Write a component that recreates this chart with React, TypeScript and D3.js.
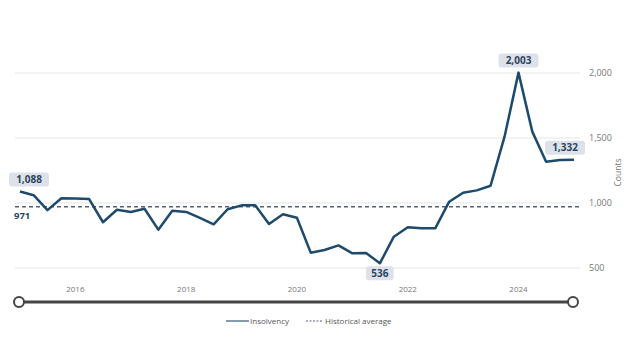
import React from "react";
import * as d3 from "d3";

const quarters = [
  "2015-01", "2015-04", "2015-07", "2015-10",
  "2016-01", "2016-04", "2016-07", "2016-10",
  "2017-01", "2017-04", "2017-07", "2017-10",
  "2018-01", "2018-04", "2018-07", "2018-10",
  "2019-01", "2019-04", "2019-07", "2019-10",
  "2020-01", "2020-04", "2020-07", "2020-10",
  "2021-01", "2021-04", "2021-07", "2021-10",
  "2022-01", "2022-04", "2022-07", "2022-10",
  "2023-01", "2023-04", "2023-07", "2023-10",
  "2024-01", "2024-04", "2024-07", "2024-10",
  "2025-01",
];
const insolvency = [
  1088, 1060, 945, 1036, 1035, 1030, 852, 948, 931, 956,
  795, 941, 931, 885, 836, 952, 982, 982, 838, 913,
  887, 618, 638, 674, 613, 615, 536, 741, 813, 805,
  805, 1010, 1079, 1097, 1133, 1510, 2003, 1549, 1318, 1330,
  1332,
];
const historicalAverage = 971;
const yTicks = [500, 1000, 1500, 2000];
const xTickYears = [2016, 2018, 2020, 2022, 2024];
const labelled = [0, 26, 36, 40];

const W = 636;
const H = 362;
const parse = d3.timeParse("%Y-%m");
const fmt = d3.format(",");
const font = "'Open Sans', 'Noto Sans', sans-serif";

export default function App() {
  const dates = quarters.map((q) => parse(q) as Date);
  const x = d3.scaleTime().domain([dates[0], dates[dates.length - 1]]).range([20, 574]);
  const y = d3.scaleLinear().domain([500, 2000]).range([268, 73]);
  const line = d3
    .line<number>()
    .x((_, i) => x(dates[i]))
    .y((d) => y(d));

  const lineColor = "#1e4a6c";
  const boxes = labelled.map((i) => {
    const v = insolvency[i];
    const text = fmt(v);
    const w = text.length * 6.2 + 9;
    let cx = x(dates[i]);
    if (i === 0) cx = x(dates[i]) + 9;
    if (i === 40) cx = x(dates[i]) - 9;
    const below = i === 26;
    const cy = below ? y(v) + 10 : y(v) - 12;
    return { i, text, w, cx, cy };
  });

  return (
    <svg width={W} height={H} style={{ position: "absolute", left: 0, top: 0, background: "#fff" }}>
      {yTicks.map((t) => (
        <g key={t}>
          <line x1={15} x2={580} y1={y(t)} y2={y(t)} stroke="#e6e6e6" strokeWidth={1} />
          <text x={589} y={y(t) + 3} fontSize={9} fill="#777" fontFamily={font}>
            {fmt(t)}
          </text>
        </g>
      ))}
      <text
        transform={`translate(621,${(y(1000) + y(1500)) / 2 + 2}) rotate(-90)`}
        textAnchor="middle"
        fontSize={8.5}
        fill="#777"
        fontFamily={font}
      >
        Counts
      </text>
      {xTickYears.map((yr) => (
        <text
          key={yr}
          x={x(new Date(yr, 0, 1))}
          y={292}
          textAnchor="middle"
          fontSize={8}
          fill="#777"
          fontFamily={font}
        >
          {yr}
        </text>
      ))}
      <line
        x1={15}
        x2={580}
        y1={y(historicalAverage)}
        y2={y(historicalAverage)}
        stroke="#55607a"
        strokeWidth={1.6}
        strokeDasharray="4,3"
      />
      <text x={14} y={y(historicalAverage) + 12} fontSize={9.5} fontWeight="bold" fill="#2c4560" fontFamily={font}>
        {fmt(historicalAverage)}
      </text>
      <path d={line(insolvency) || ""} fill="none" stroke={lineColor} strokeWidth={2.5} strokeLinejoin="round" />
      {boxes.map((b) => (
        <g key={b.i}>
          <rect x={b.cx - b.w / 2} y={b.cy - 7} width={b.w} height={14} rx={3} fill="#dde2ea" />
          <text
            x={b.cx}
            y={b.cy + 3.5}
            textAnchor="middle"
            fontSize={10}
            fontWeight="bold"
            fill="#2c4560"
            fontFamily={font}
          >
            {b.text}
          </text>
        </g>
      ))}
      <line x1={19} x2={573} y1={302} y2={302} stroke="#444" strokeWidth={3} />
      <circle cx={19} cy={302} r={5} fill="#fff" stroke="#444" strokeWidth={2} />
      <circle cx={573} cy={302} r={5} fill="#fff" stroke="#444" strokeWidth={2} />
      <line x1={226} x2={249} y1={321} y2={321} stroke="#5a7897" strokeWidth={1.5} />
      <text x={250} y={324} fontSize={8} fill="#555" fontFamily={font}>
        Insolvency
      </text>
      <line x1={306} x2={322} y1={321} y2={321} stroke="#55607a" strokeWidth={1.2} strokeDasharray="2,1.5" />
      <text x={325} y={324} fontSize={8} fill="#555" fontFamily={font}>
        Historical average
      </text>
    </svg>
  );
}
